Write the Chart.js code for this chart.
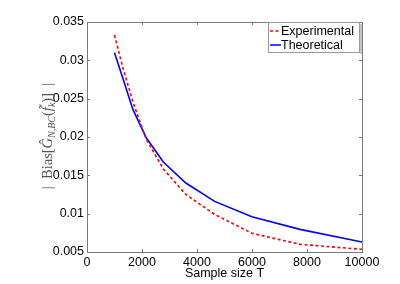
<!DOCTYPE html>
<html><head><meta charset="utf-8">
<script src="https://cdn.jsdelivr.net/npm/chart.js@4.4.1/dist/chart.umd.min.js"></script>
<style>html,body{margin:0;padding:0;background:#fff}#wrap{width:400px;height:284px}</style>
</head><body><div id="wrap"><canvas id="c" width="400" height="284"></canvas></div>
<script>
const sampleSizes = [1000, 1292, 1668, 2154, 2783, 3594, 4642, 5995, 7743, 10000];
const experimental = [0.0333, 0.0292, 0.0246, 0.0197, 0.0158, 0.0125, 0.0099, 0.00745, 0.0060, 0.00535];
const theoretical = [0.0310, 0.0278, 0.0236, 0.0199, 0.0167, 0.0140, 0.0116, 0.0096, 0.00795, 0.0063];
const seriesLabels = ['Experimental', 'Theoretical'];
const xTicks = [0, 2000, 4000, 6000, 8000, 10000];
const yTicks = [0.005, 0.01, 0.015, 0.02, 0.025, 0.03, 0.035];
const xTitle = 'Sample size T';

const FONT = 'Liberation Sans, Arial, sans-serif';

const boxPlugin = {
  id: 'box',
  afterDatasetsDraw(chart) {
    const ctx = chart.ctx, a = chart.chartArea;
    const xs = chart.scales.x, ys = chart.scales.y;
    ctx.save();
    ctx.strokeStyle = '#7a7a7a';
    ctx.lineWidth = 1;
    ctx.strokeRect(Math.round(a.left) + 0.5, Math.round(a.top) + 0.5, Math.round(a.right - a.left), Math.round(a.bottom - a.top));
    ctx.beginPath();
    xTicks.forEach(v => {
      const px = Math.round(xs.getPixelForValue(v)) + 0.5;
      ctx.moveTo(px, a.bottom); ctx.lineTo(px, a.bottom - 3);
      ctx.moveTo(px, a.top); ctx.lineTo(px, a.top + 3);
    });
    yTicks.forEach(v => {
      const py = Math.round(ys.getPixelForValue(v)) + 0.5;
      ctx.moveTo(a.left, py); ctx.lineTo(a.left + 3, py);
      ctx.moveTo(a.right, py); ctx.lineTo(a.right - 3, py);
    });
    ctx.stroke();

    // legend
    const lx = 268, ly = 22, lw = 91, lh = 30;
    ctx.fillStyle = '#fff';
    ctx.fillRect(lx, ly, lw, lh);
    ctx.strokeStyle = '#999';
    ctx.strokeRect(lx + 0.5, ly + 0.5, lw, lh);
    ctx.strokeStyle = '#c4c4c4';
    ctx.lineWidth = 2;
    ctx.beginPath();
    ctx.moveTo(lx + lw + 2, ly + 2); ctx.lineTo(lx + lw + 2, ly + lh + 2);
    ctx.stroke();
    ctx.font = '12.5px ' + FONT;
    ctx.textBaseline = 'middle';
    ctx.textAlign = 'left';
    chart.data.datasets.forEach((ds, i) => {
      const yy = ly + 9 + i * 14;
      ctx.strokeStyle = ds.borderColor;
      ctx.lineWidth = 1.5;
      ctx.setLineDash(ds.borderDash || []);
      ctx.beginPath(); ctx.moveTo(lx + 2, yy); ctx.lineTo(lx + 13, yy); ctx.stroke();
      ctx.setLineDash([]);
      ctx.fillStyle = '#000';
      ctx.fillText(ds.label, lx + 13, yy + 0.5);
    });

    // y title (rotated, math-style)
    const parts = [
      ['|  Bias[', 'normal', 14.5, 0],
      ['Ĝ', 'italic', 14.5, 0],
      ['N,BC', 'italic', 10, 3],
      ['(', 'normal', 14.5, 0],
      ['f̃', 'italic', 14.5, 0],
      ['k', 'italic', 10, 3],
      [')]  |', 'normal', 14.5, 0]
    ];
    const SERIF = 'Liberation Serif, DejaVu Serif, serif';
    let total = 0;
    parts.forEach(p => { ctx.font = p[1] + ' ' + p[2] + 'px ' + SERIF; total += ctx.measureText(p[0]).width; });
    ctx.translate(48, 136);
    ctx.rotate(-Math.PI / 2);
    ctx.fillStyle = '#555';
    ctx.textBaseline = 'alphabetic';
    let x0 = -total / 2;
    parts.forEach(p => {
      ctx.font = p[1] + ' ' + p[2] + 'px ' + SERIF;
      ctx.fillText(p[0], x0, 4 + p[3]);
      x0 += ctx.measureText(p[0]).width;
    });
    ctx.restore();
  }
};

new Chart(document.getElementById('c'), {
  type: 'line',
  data: {
    datasets: [
      {
        label: seriesLabels[0],
        data: sampleSizes.map((t, i) => ({ x: t, y: experimental[i] })),
        borderColor: '#ff0000', borderWidth: 1.6, borderDash: [3, 2.5],
        pointRadius: 0, fill: false, tension: 0
      },
      {
        label: seriesLabels[1],
        data: sampleSizes.map((t, i) => ({ x: t, y: theoretical[i] })),
        borderColor: '#0000ff', borderWidth: 1.6,
        pointRadius: 0, fill: false, tension: 0
      }
    ]
  },
  options: {
    responsive: false, animation: false, devicePixelRatio: 1,
    layout: { padding: { top: 22, right: 38, left: 0, bottom: 0 } },
    plugins: { legend: { display: false }, tooltip: { enabled: false } },
    scales: {
      x: {
        type: 'linear', min: 0, max: 10000,
        afterFit(s) { s.height = 32; },
        afterBuildTicks(s) { s.ticks = xTicks.map(v => ({ value: v })); },
        grid: { display: false, drawTicks: false },
        border: { display: false },
        ticks: { color: '#000', font: { family: FONT, size: 12.5 }, padding: 3, maxRotation: 0,
          callback: v => String(v) },
        title: { display: true, text: xTitle, color: '#000', font: { family: FONT, size: 12.5 }, padding: { top: 0, bottom: 3 } }
      },
      y: {
        type: 'linear', min: 0.005, max: 0.035,
        afterFit(s) { s.width = 87; },
        afterBuildTicks(s) { s.ticks = yTicks.map(v => ({ value: v })); },
        grid: { display: false, drawTicks: false },
        border: { display: false },
        ticks: { color: '#000', font: { family: FONT, size: 12.5 }, padding: 3,
          callback: v => String(parseFloat(v.toFixed(3))) }
      }
    }
  },
  plugins: [boxPlugin]
});
</script>
</body></html>
